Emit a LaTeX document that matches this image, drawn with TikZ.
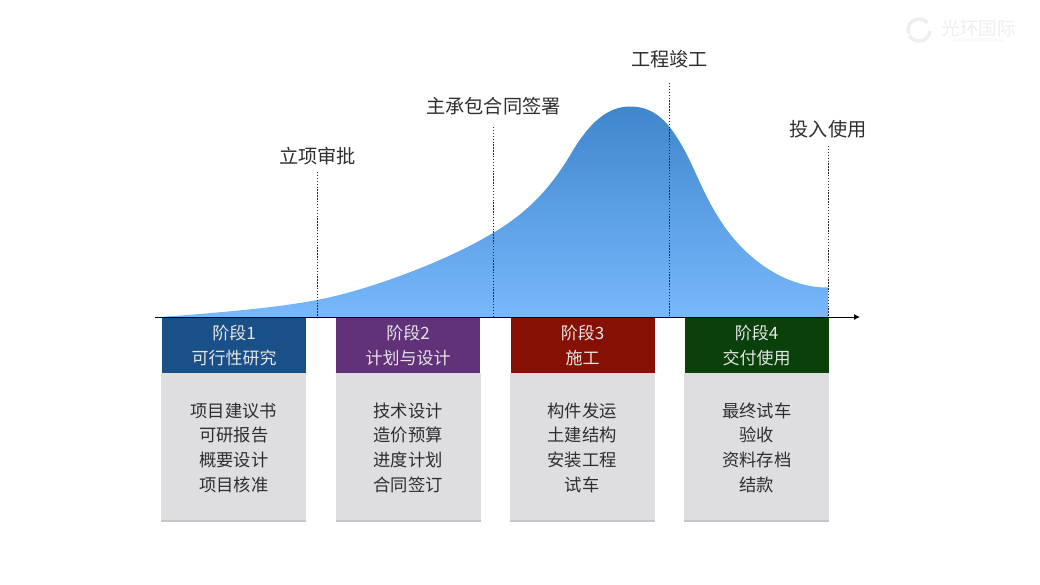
\documentclass[tikz,border=0pt]{standalone}
\usepackage{fontspec}
\setmainfont{Noto Sans CJK SC}[BoldFont={Noto Sans CJK SC}]
\usetikzlibrary{arrows.meta,calc}
\definecolor{stA}{HTML}{1A5088}
\definecolor{stB}{HTML}{61317A}
\definecolor{stC}{HTML}{851003}
\definecolor{stD}{HTML}{0A400A}
\definecolor{bodyg}{HTML}{DEDEE1}
\definecolor{shadowg}{HTML}{C6C6C8}
\definecolor{curvetop}{HTML}{3F86CC}
\definecolor{curvebot}{HTML}{78B8FC}
\definecolor{ink}{HTML}{2E2E2E}
\definecolor{logog}{HTML}{EEEEEE}
\tikzset{
  x=1pt,y=-1pt,
  head/.style={minimum width=144pt,minimum height=54.5pt,inner sep=0pt,text=white!90!black,align=center,font=\fontsize{17}{24.3}\selectfont,anchor=north west},
  bodybox/.style={fill=bodyg,minimum width=145pt,minimum height=145pt,inner sep=0pt,text=ink,align=center,font=\fontsize{17.3}{24.8}\selectfont,anchor=north west},
  milestone/.style={text=ink,inner sep=0pt,font=\fontsize{19.2}{22}\selectfont},
  guide/.style={black!85,line width=1pt,dash pattern=on 1.4pt off 1.5pt},
}
\begin{document}
\begin{tikzpicture}
\useasboundingbox (0,0) rectangle (1040,584);
% curve
\shade[top color=curvetop,bottom color=curvebot]
  (160,317) .. controls (230,312) and (280,307) .. (317,300)
  .. controls (367,290.5) and (445,262) .. (493,233)
  .. controls (530,211) and (552,186) .. (572,152)
  .. controls (590,122) and (608,106.5) .. (630,106.5)
  .. controls (650,106.5) and (664,117) .. (676,136)
  .. controls (694,163) and (700,190) .. (722,223)
  .. controls (745,258) and (785,288) .. (828,287.5)
  -- (828,317) -- cycle;
% milestones
\coordinate (g1b) at (317,317);
\coordinate (g2b) at (493,317);
\coordinate (g3b) at (669.5,317);
\coordinate (g4b) at (828,317);
\coordinate (g1t) at (317,172);
\coordinate (g2t) at (493,127);
\coordinate (g3t) at (669.5,83);
\coordinate (g4t) at (828,146);
\draw[guide] (g1t) -- (g1b);
\draw[guide] (g2t) -- (g2b);
\draw[guide] (g3t) -- (g3b);
\draw[guide] (g4t) -- (g4b);
\node[milestone] (m1) at (317.5,156) {立项审批};
\node[milestone] (m2) at (493.5,106) {主承包合同签署};
\node[milestone] (m3) at (669.5,59) {工程竣工};
\node[milestone] (m4) at (828,129) {投入使用};
% axis
\coordinate (ax0) at (155,317);
\coordinate (ax1) at (860,317);
\draw[black,line width=1pt,-{Latex[length=6pt,width=6pt]}] (ax0) -- (ax1);
% body boxes
\foreach \x in {161,335.5,509.5,684}{
  \fill[shadowg] (\x,519) rectangle (\x+145,521.5);
  \fill[bodyg] (\x,372.5) rectangle (\x+145,376);
}
\node[bodybox] (ba) at (161,375) {项目建议书\\可研报告\\概要设计\\项目核准};
\node[bodybox] (bb) at (335.5,375) {技术设计\\造价预算\\进度计划\\合同签订};
\node[bodybox] (bc) at (509.5,375) {构件发运\\土建结构\\安装工程\\试车};
\node[bodybox] (bd) at (684,375) {最终试车\\验收\\资料存档\\结款};
% heads
\node[head,fill=stA] (ha) at (162,318) {阶段1\\可行性研究};
\node[head,fill=stB] (hb) at (336,318) {阶段2\\计划与设计};
\node[head,fill=stC] (hc) at (510.5,318) {阶段3\\施工};
\node[head,fill=stD] (hd) at (684.5,318) {阶段4\\交付使用};
% logo
\draw[logog,line width=3.5pt] (919,30) ++(-40:11) arc (-40:-200:11);
\draw[logog,line width=3.5pt] (919,30) ++(5:11) arc (5:150:11);
\node[text=logog,inner sep=0pt,font=\fontsize{18.5}{19}\selectfont] (logo) at (978.5,28) {光环国际};
\node[text=logog,inner sep=0pt,font=\fontsize{5}{5}\selectfont] (logosub) at (978.5,41) {AURA INTERNATIONAL};
\end{tikzpicture}
\end{document}
